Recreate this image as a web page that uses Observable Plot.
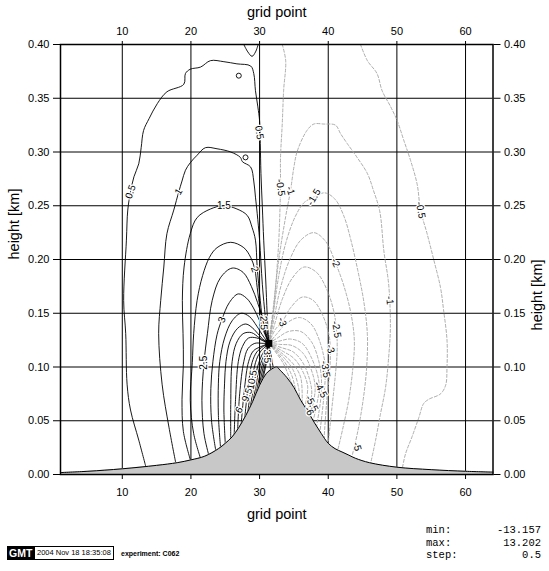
<!DOCTYPE html>
<html><head><meta charset="utf-8">
<script src="https://cdn.jsdelivr.net/npm/d3@7"></script>
<script src="https://cdn.jsdelivr.net/npm/@observablehq/plot@0.6"></script>
<style>
body{margin:0;background:#fff;}
#wrap{position:relative;width:549px;height:571px;font-family:"Liberation Sans",Arial,Helvetica,sans-serif;overflow:hidden;}
#wrap svg{position:absolute;left:0;top:0;}
.abs{position:absolute;white-space:nowrap;line-height:1;}
.gmt{background:#000;color:#fff;font-weight:bold;font-size:10.5px;padding:1.5px 2px;height:11px;}
.date{border:1px solid #000;background:#fff;font-size:7.5px;padding:2px 2px;height:8px;}
.exp{font-weight:bold;font-size:7px;}
.mono{font-family:"Liberation Mono","DejaVu Sans Mono",monospace;font-size:10.5px;}
</style></head>
<body><div id="wrap"></div>
<script>
// axis ticks
const xTicks = [10, 20, 30, 40, 50, 60];
const yTicks = [0, 0.05, 0.10, 0.15, 0.20, 0.25, 0.30, 0.35, 0.40];

// terrain (hill) profile
const hillX = [1,5,10,15,18,20,22,24,25,26,27,28,29,30,31,32,32.5,33,34,35,36,37,38,39,40,41,42,43,44,46,50,55,60,64];
const hillY = [0.0018,0.003,0.0053,0.0085,0.011,0.0136,0.017,0.024,0.029,0.035,0.044,0.055,0.068,0.083,0.094,0.099,0.100,0.097,0.090,0.081,0.069,0.059,0.048,0.038,0.029,0.024,0.021,0.018,0.015,0.011,0.0068,0.0045,0.003,0.0022];

// singular point where contours converge
const P = [31.35, 0.122];

// positive contours (solid), [gridpoint, height]
const pos05a = [[13.4,0.008],[12.4,0.032],[11.2,0.060],[10.7,0.084],[10.5,0.131],[10.2,0.162],[10.6,0.218],[10.8,0.246],[11.2,0.263],[11.7,0.277],[12.4,0.289],[12.75,0.304],[13.1,0.320],[13.9,0.331],[15.1,0.345],[16.5,0.356],[18.96,0.363],[19.2,0.373],[19.9,0.377],[21.4,0.379],[22.85,0.385],[24.8,0.384],[26.7,0.382],[28.7,0.380],[29.15,0.373],[29.4,0.357],[29.75,0.342],[30.0,0.329],[30.1,0.308],[30.2,0.280],[30.4,0.249],[30.6,0.218],[30.9,0.18],[31.1,0.15],[31.35,0.122]];
const pos05b = [[27.7,0.4],[28.3,0.393],[28.9,0.389],[29.4,0.393],[29.8,0.4]];
const pos10 = [[17.75,0.012],[16.8,0.044],[15.8,0.084],[15.3,0.131],[15.6,0.162],[16.05,0.193],[16.5,0.224],[17.5,0.246],[18.23,0.263],[18.7,0.273],[19.2,0.283],[19.9,0.290],[20.9,0.297],[22.1,0.304],[23.8,0.303],[25.8,0.300],[27.2,0.295],[27.5,0.291],[28.7,0.286],[29.15,0.273],[29.4,0.258],[29.65,0.243],[30.0,0.218],[30.4,0.177],[30.85,0.146],[31.35,0.122]];
const pos15 = [[19.9,0.014],[18.9,0.04],[18.7,0.07],[18.9,0.102],[18.85,0.131],[18.75,0.162],[19.0,0.193],[19.9,0.224],[20.9,0.239],[22.85,0.247],[24.8,0.250],[26.7,0.247],[28.2,0.241],[28.9,0.230],[29.4,0.218],[29.65,0.193],[30.1,0.162],[30.6,0.137],[31.35,0.122]];
const pos20 = [[21.4,0.015],[20.4,0.038],[19.9,0.069],[20.2,0.104],[20.4,0.131],[20.9,0.162],[21.7,0.185],[22.7,0.202],[23.8,0.211],[25.8,0.216],[27.7,0.211],[28.7,0.202],[29.3,0.191],[29.65,0.174],[30.1,0.153],[30.85,0.131],[31.35,0.122]];
const pos25 = [[22.6,0.018],[21.9,0.038],[21.6,0.069],[21.9,0.104],[22.4,0.131],[23.1,0.162],[24.3,0.183],[26.0,0.192],[27.6,0.188],[28.8,0.175],[29.7,0.160],[30.4,0.146],[30.9,0.133],[31.35,0.122]];
const pos30 = [[23.6,0.023],[23.0,0.05],[22.9,0.08],[23.2,0.105],[23.8,0.13],[24.5,0.144],[25.6,0.16],[26.9,0.168],[28.1,0.164],[29.1,0.155],[30.0,0.143],[30.8,0.13],[31.35,0.122]];
const pos35 = [[24.3,0.026],[24.0,0.055],[24.0,0.085],[24.2,0.105],[24.9,0.127],[26.0,0.143],[27.3,0.150],[28.5,0.147],[29.6,0.138],[30.6,0.128],[31.35,0.122]];
const pos40 = [[25.0,0.029],[24.8,0.06],[24.9,0.085],[25.1,0.105],[25.7,0.124],[26.8,0.136],[28.0,0.140],[29.2,0.135],[30.3,0.127],[31.35,0.122]];
const pos45 = [[25.8,0.033],[25.8,0.065],[26.0,0.105],[26.6,0.122],[27.6,0.131],[28.8,0.132],[30.0,0.127],[31.35,0.122]];
const pos50 = [[26.3,0.037],[26.5,0.07],[26.9,0.105],[27.5,0.119],[28.4,0.127],[29.6,0.127],[30.6,0.124],[31.35,0.122]];
const pos55 = [[26.8,0.041],[27.1,0.075],[27.7,0.105],[28.3,0.117],[29.3,0.122],[30.5,0.122],[31.35,0.122]];
const pos60 = [[27.3,0.045],[27.8,0.08],[28.4,0.105],[29.1,0.115],[30.2,0.119],[31.35,0.122]];
const pos65 = [[27.8,0.05],[28.3,0.08],[28.9,0.104],[29.6,0.114],[30.5,0.119],[31.35,0.122]];
const pos70 = [[28.2,0.054],[28.8,0.082],[29.4,0.104],[30.1,0.114],[31.35,0.122]];
const pos75 = [[28.5,0.057],[29.1,0.08],[29.7,0.1],[30.4,0.112],[31.35,0.122]];
const pos80 = [[28.8,0.061],[29.4,0.08],[30.0,0.1],[30.7,0.112],[31.35,0.122]];
const pos85 = [[29.1,0.065],[29.7,0.082],[30.3,0.1],[31.35,0.122]];
const pos90 = [[29.4,0.069],[30.0,0.085],[30.6,0.102],[31.35,0.122]];
const pos95 = [[29.7,0.073],[30.3,0.088],[30.9,0.105],[31.35,0.122]];
const pos100 = [[30.0,0.077],[30.6,0.092],[31.1,0.108],[31.35,0.122]];
const stemA = [[31.35,0.122],[31.45,0.11],[31.6,0.097]];
const stemB = [[31.35,0.122],[31.7,0.11],[32.0,0.099]];

// tiny closed positive contours
const loopX = [26.97, 27.95];
const loopY = [0.371, 0.295];

// negative contours (dashed)
const neg05a = [[33.3,0.40],[33.8,0.385],[33.5,0.357],[33.3,0.326],[33.05,0.295],[33.05,0.267],[32.95,0.243],[32.8,0.218],[32.4,0.18],[31.9,0.145],[31.35,0.122]];
const neg05b = [[44.7,0.40],[45.7,0.385],[47.1,0.373],[47.85,0.357],[49.1,0.342],[50.05,0.329],[51.0,0.311],[52.0,0.292],[52.95,0.270],[53.45,0.246],[54.4,0.224],[55.4,0.199],[56.35,0.174],[56.8,0.153],[57.3,0.125],[57.3,0.10],[57.1,0.083],[56.35,0.075],[54.65,0.070],[53.9,0.066],[53.2,0.053],[52.2,0.035],[51.25,0.019],[50.8,0.006]];
const neg10 = [[31.35,0.122],[31.9,0.15],[32.8,0.2],[33.8,0.24],[34.5,0.264],[35.0,0.286],[35.5,0.301],[36.9,0.32],[37.9,0.326],[39.35,0.326],[41.05,0.325],[41.8,0.317],[42.75,0.308],[44.2,0.295],[45.7,0.28],[46.6,0.264],[47.5,0.245],[48.1,0.208],[48.8,0.177],[49.05,0.137],[48.8,0.109],[48.35,0.081],[47.6,0.056],[46.9,0.032],[46.2,0.011]];
const neg15 = [[31.35,0.122],[32.0,0.15],[32.8,0.185],[33.8,0.215],[35.2,0.24],[36.5,0.253],[37.9,0.258],[39.5,0.262],[41.0,0.256],[42.3,0.24],[43.3,0.218],[44.3,0.19],[45.2,0.16],[45.7,0.13],[45.6,0.10],[45.1,0.07],[44.3,0.04],[43.5,0.018]];
const neg20 = [[31.35,0.122],[32.1,0.145],[33.1,0.175],[34.4,0.2],[36.0,0.218],[37.9,0.225],[39.6,0.217],[41.05,0.197],[42.3,0.175],[43.3,0.15],[43.8,0.125],[43.6,0.10],[43.0,0.07],[42.2,0.045],[41.4,0.023]];
const neg25 = [[31.35,0.122],[32.2,0.14],[33.3,0.163],[34.8,0.183],[36.5,0.193],[38.3,0.188],[39.8,0.172],[40.8,0.152],[41.2,0.135],[41.3,0.115],[41.0,0.09],[40.5,0.06],[40.0,0.029]];
const neg30 = [[31.35,0.122],[32.3,0.135],[33.3,0.142],[34.5,0.155],[36.2,0.165],[37.8,0.162],[39.2,0.148],[40.1,0.13],[40.3,0.117],[40.2,0.095],[39.8,0.07],[39.4,0.034]];
const neg35 = [[31.35,0.122],[32.4,0.13],[34.0,0.141],[35.8,0.146],[37.5,0.14],[38.7,0.125],[39.5,0.105],[39.6,0.098],[39.4,0.075],[38.8,0.040]];
const neg40 = [[31.35,0.122],[32.6,0.127],[34.2,0.133],[36.0,0.133],[37.6,0.123],[38.6,0.106],[39.0,0.09],[38.9,0.07],[38.3,0.045]];
const neg45 = [[31.35,0.122],[32.8,0.124],[34.5,0.126],[36.2,0.122],[37.6,0.108],[38.6,0.088],[38.6,0.075],[37.8,0.05]];
const neg50 = [[31.35,0.122],[33.0,0.121],[34.7,0.12],[36.3,0.113],[37.5,0.098],[38.1,0.08],[37.4,0.055]];
const neg55 = [[31.35,0.122],[33.2,0.118],[34.9,0.114],[36.3,0.104],[37.3,0.088],[37.6,0.075],[37.0,0.059]];
const neg60 = [[31.35,0.122],[33.3,0.115],[35.0,0.108],[36.2,0.097],[37.0,0.082],[36.6,0.063]];
const neg65 = [[31.35,0.122],[33.4,0.112],[35.0,0.102],[36.0,0.09],[36.2,0.067]];
const neg70 = [[31.35,0.122],[33.5,0.109],[34.9,0.097],[35.7,0.08],[35.8,0.071]];
const neg75 = [[31.35,0.122],[33.5,0.106],[34.7,0.092],[35.3,0.077]];
const neg80 = [[31.35,0.122],[33.4,0.104],[34.4,0.089],[34.9,0.082]];

// contour labels
const labelText = ["0.5","0.5","1","1.5","2","2.5","3","2.5","6","9.5","10.5","3.5",
                   "-0.5","-1","-1.5","-0.5","-2","-1","-2.5","-3","-3.5","-4.5","-5.5","-6","-3","-5"];
const labelX = [11.2,29.95,18.2,24.8,29.3,21.85,24.5,30.6,27.0,28.2,28.9,31.1,
                33.05,34.5,37.9,53.45,41.05,48.95,41.2,40.3,39.6,38.9,37.6,37.2,33.3,44.2];
const labelY = [0.263,0.318,0.263,0.250,0.191,0.104,0.144,0.141,0.060,0.074,0.088,0.110,
                0.267,0.264,0.258,0.246,0.197,0.162,0.135,0.117,0.098,0.079,0.066,0.059,0.142,0.026];
const labelAngle = [-70,80,-60,0,70,-90,-70,88,-60,-70,-80,88,
                    82,72,-60,80,65,85,80,75,80,62,62,62,70,75];

// stats
const statNames = ["min:", "max:", "step:"];
const statValues = ["-13.157", "13.202", "0.5"];

function rows(list) {
  const out = [];
  list.forEach((pts, i) => pts.forEach(([x, y]) => out.push({id: i, x, y})));
  return out;
}
const posRows = rows([pos05a,pos05b,pos10,pos15,pos20,pos25,pos30,pos35,pos40,pos45,pos50,pos55,pos60,pos65,pos70,pos75,pos80,pos85,pos90,pos95,pos100,stemA,stemB]);
const negRows = rows([neg05a,neg05b,neg10,neg15,neg20,neg25,neg30,neg35,neg40,neg45,neg50,neg55,neg60,neg65,neg70,neg75,neg80]);
const hill = hillX.map((x, i) => ({x, y: hillY[i]}));
const loops = loopX.map((x, i) => ({x, y: loopY[i]}));
const labels = labelText.map((t, i) => ({t, x: labelX[i], y: labelY[i], a: labelAngle[i]}));

const chart = Plot.plot({
  width: 549,
  height: 571,
  marginTop: 44,
  marginBottom: 97,
  marginLeft: 60,
  marginRight: 56.5,
  style: {fontFamily: '"Liberation Sans", Arial, Helvetica, sans-serif', fontSize: "11px", background: "white", color: "black"},
  x: {domain: [1, 64]},
  y: {domain: [0, 0.4]},
  marks: [
    Plot.gridX(xTicks, {stroke: "black", strokeOpacity: 1, strokeWidth: 1}),
    Plot.gridY(yTicks.slice(1, -1), {stroke: "black", strokeOpacity: 1, strokeWidth: 1}),
    Plot.line(negRows, {x: "x", y: "y", z: "id", stroke: "#a4a4a4", strokeWidth: 0.9, strokeDasharray: "3,2", curve: "catmull-rom"}),
    Plot.line(posRows, {x: "x", y: "y", z: "id", stroke: "black", strokeWidth: 0.9, curve: "catmull-rom"}),
    Plot.dot(loops, {x: "x", y: "y", r: 2.5, stroke: "black", strokeWidth: 0.9, fill: "none"}),
    Plot.areaY(hill, {x: "x", y: "y", fill: "#c8c8c8", curve: "catmull-rom"}),
    Plot.line(hill, {x: "x", y: "y", stroke: "black", strokeWidth: 1, curve: "catmull-rom"}),
    Plot.dot([P], {x: d => d[0], y: d => d[1], symbol: "square", r: 4, fill: "black"}),
    Plot.text(labels, {x: "x", y: "y", text: "t", rotate: "a", fontSize: 10, fill: "black", stroke: "white", strokeWidth: 2.5}),
    Plot.frame({stroke: "black", strokeWidth: 1.5}),
    Plot.axisX(xTicks, {anchor: "bottom", tickSize: 5, tickPadding: 9, label: null}),
    Plot.axisX(xTicks, {anchor: "top", tickSize: 4, tickPadding: 6, label: null}),
    Plot.axisY(yTicks, {anchor: "left", tickSize: 7, tickPadding: 4, tickFormat: d3.format(".2f"), label: null}),
    Plot.axisY(yTicks, {anchor: "right", tickSize: 7, tickPadding: 4, tickFormat: d3.format(".2f"), label: null}),
    Plot.text(["grid point"], {frameAnchor: "top", dy: -38, text: d => d, fontSize: 14.5}),
    Plot.text(["grid point"], {frameAnchor: "bottom", dy: 44, text: d => d, fontSize: 14.5}),
    Plot.text(["height [km]"], {frameAnchor: "left", dx: -46, rotate: -90, text: d => d, fontSize: 14.5}),
    Plot.text(["height [km]"], {frameAnchor: "right", dx: 44, rotate: -90, text: d => d, fontSize: 14.5})
  ]
});

const wrap = document.getElementById("wrap");
wrap.appendChild(chart);

function addDiv(cls, text, style) {
  const d = document.createElement("div");
  d.className = "abs " + cls;
  d.textContent = text;
  Object.assign(d.style, style);
  wrap.appendChild(d);
}
addDiv("gmt", "GMT", {left: "7px", top: "546px"});
addDiv("date", "2004 Nov 18 18:35:08", {left: "34px", top: "546px"});
addDiv("exp", "experiment: C062", {left: "121px", top: "550px"});
const statTop = [525, 537.5, 550];
statNames.forEach((n, i) => {
  addDiv("mono", n, {left: "426px", top: statTop[i] + "px"});
  addDiv("mono", statValues[i], {right: (549 - 541) + "px", top: statTop[i] + "px", textAlign: "right"});
});
</script>
</body></html>
